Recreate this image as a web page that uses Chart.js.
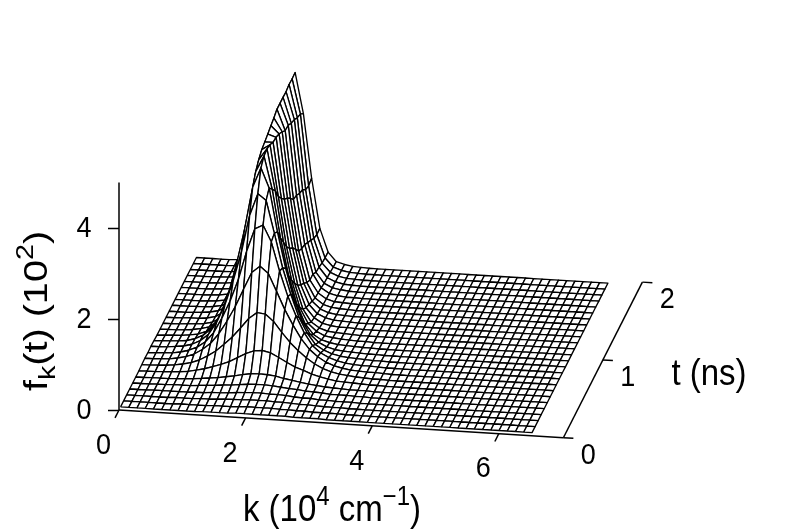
<!DOCTYPE html>
<html>
<head>
<meta charset="utf-8">
<style>html,body{margin:0;padding:0;background:#fff}canvas{display:block}</style>
<script src="https://cdn.jsdelivr.net/npm/chart.js@4"></script>
</head>
<body>
<canvas id="surfaceChart" width="790" height="530"></canvas>
<script>
// grid positions along each axis
const kValues = [0,.13,.26,.39,.52,.65,.78,.91,1.04,1.17,1.3,1.43,1.56,1.69,1.82,1.95,2.08,2.21,2.34,2.47,2.6,2.73,2.86,2.99,3.12,3.25,3.38,3.51,3.64,3.77,3.9,4.03,4.16,4.29,4.42,4.55,4.68,4.81,4.94,5.07,5.2,5.33,5.46,5.59,5.72,5.85,5.98,6.11,6.24,6.37,6.5];
const tValues = [.04,.117,.194,.27,.347,.424,.501,.578,.654,.731,.808,.885,.962,1.038,1.115,1.192,1.269,1.346,1.422,1.499,1.576,1.653,1.73,1.806,1.883,1.96];

// f values in units of 10^2, one row per t, columns 0-30 of kValues. Flat floor after that.
const fRows = [
[0,0,0,0,0,0,0,0,0,0,.01,.01,.01,.01,.02,.02,.02,.02,.02,.02,.02,.01,.01,.01,.01,0,0,0,0,0,0],
[0,0,0,0,0,0,0,.01,.01,.01,.01,.02,.02,.02,.03,.04,.04,.04,.04,.03,.03,.02,.02,.01,.01,.01,.01,0,0,0,0],
[0,0,0,0,0,0,.01,.01,.01,.02,.02,.03,.04,.05,.05,.06,.06,.06,.05,.05,.04,.03,.03,.02,.01,.01,.01,0,0,0,0],
[0,0,0,.01,.01,.01,.01,.01,.02,.02,.04,.04,.05,.07,.08,.09,.09,.08,.08,.07,.05,.04,.04,.02,.02,.01,.01,.01,0,0,0],
[0,0,0,.01,.01,.02,.02,.02,.04,.05,.06,.08,.09,.11,.13,.14,.14,.13,.11,.09,.08,.06,.05,.04,.02,.02,.02,.01,.01,0,0],
[0,0,.01,.01,.01,.02,.03,.04,.06,.08,.1,.13,.16,.2,.23,.24,.23,.21,.17,.14,.11,.08,.06,.04,.03,.02,.01,.01,.01,0,0],
[0,.01,.01,.02,.03,.04,.06,.1,.14,.2,.26,.33,.43,.53,.6,.62,.58,.49,.39,.3,.24,.17,.12,.08,.05,.04,.03,.02,.01,.01,0],
[.01,.01,.02,.03,.05,.08,.12,.19,.29,.41,.57,.74,.95,1.17,1.31,1.29,1.14,.91,.7,.53,.38,.26,.17,.11,.07,.05,.03,.02,.01,.01,0],
[.02,.02,.03,.04,.07,.11,.18,.29,.44,.66,.95,1.28,1.67,2.05,2.2,2.05,1.67,1.28,.95,.66,.44,.29,.18,.11,.07,.04,.03,.02,.02,.01,0],
[.01,.02,.03,.04,.07,.12,.2,.33,.54,.87,1.26,1.74,2.37,2.88,2.97,2.61,1.98,1.44,1.02,.66,.39,.24,.15,.09,.05,.03,.02,.02,.01,0,0],
[.02,.02,.03,.05,.07,.12,.21,.36,.64,1.03,1.57,2.21,3.03,3.52,3.38,2.67,1.92,1.35,.85,.52,.28,.17,.1,.06,.04,.03,.02,.01,.01,0,0],
[.01,.02,.03,.04,.06,.11,.2,.36,.65,1.11,1.78,2.57,3.52,3.95,3.52,2.57,1.78,1.11,.65,.36,.2,.11,.06,.04,.03,.02,.01,.01,0,0,0],
[0,.01,.02,.03,.05,.08,.15,.31,.57,1.07,1.76,2.71,3.73,4.08,3.36,2.3,1.48,.86,.45,.23,.12,.07,.04,.03,.02,.01,.01,0,0,0,0],
[0,.01,.01,.02,.04,.07,.12,.25,.52,1,1.74,2.7,3.86,4.11,3.2,2.08,1.25,.66,.33,.17,.08,.05,.03,.02,.01,.01,0,0,0,0,0],
[0,0,.01,.02,.03,.05,.09,.2,.42,.92,1.68,2.73,3.95,4.07,2.94,1.85,1.05,.5,.23,.11,.05,.03,.02,.01,0,0,0,0,0,0,0],
[0,0,.01,.02,.02,.04,.08,.19,.4,.88,1.68,2.77,3.99,3.99,2.77,1.68,.88,.4,.19,.08,.04,.02,.02,.01,0,0,0,0,0,0,0],
[0,0,0,.01,.02,.04,.08,.17,.36,.84,1.65,2.79,4.03,3.97,2.62,1.56,.76,.34,.15,.07,.03,.02,.01,0,0,0,0,0,0,0,0],
[0,0,0,.01,.01,.03,.06,.14,.32,.77,1.62,2.76,4.08,3.91,2.51,1.4,.66,.28,.12,.05,.02,.01,0,0,0,0,0,0,0,0,0],
[0,0,0,0,.01,.02,.05,.13,.3,.72,1.57,2.76,4.12,3.83,2.38,1.23,.55,.22,.09,.04,.02,.01,0,0,0,0,0,0,0,0,0],
[0,0,0,0,.01,.02,.05,.12,.28,.7,1.58,2.82,4.18,3.72,2.22,1.15,.47,.2,.08,.03,.02,.01,0,0,0,0,0,0,0,0,0],
[0,0,0,0,.01,.02,.04,.11,.26,.66,1.49,2.78,4.18,3.71,2.18,1.11,.47,.18,.07,.03,.01,.01,0,0,0,0,0,0,0,0,0],
[0,0,0,0,.01,.02,.04,.09,.24,.64,1.49,2.77,4.18,3.62,2.09,1.02,.38,.15,.06,.03,.01,0,0,0,0,0,0,0,0,0,0],
[0,0,0,0,.01,.02,.03,.09,.21,.6,1.45,2.76,4.17,3.57,2.04,.94,.36,.14,.06,.02,.01,0,0,0,0,0,0,0,0,0,0],
[0,0,0,0,0,.01,.03,.08,.21,.59,1.44,2.76,4.2,3.48,1.91,.85,.32,.13,.05,.02,.01,0,0,0,0,0,0,0,0,0,0],
[0,0,0,0,0,.01,.03,.08,.2,.55,1.4,2.71,4.19,3.43,1.86,.8,.3,.11,.05,.02,.01,0,0,0,0,0,0,0,0,0,0],
[0,0,0,0,0,.01,.03,.07,.2,.55,1.39,2.7,4.2,3.31,1.9,.81,.3,.1,.05,.02,.01,0,0,0,0,0,0,0,0,0,0]
];

const kTicks = [0,2,4,6];
const tTicks = [0,1,2];
const zTicks = [0,2,4];
const kAxisEnd = 7.02;
const tAxisEnd = 2;
const zAxisEnd = 5;

// oblique view: k and t shift the point on the z scale and the horizontal scale
function project(k, t, z) {
    return { x: k + t * 0.624, y: z - k * 0.0868 + t * 1.71 };
}

const FONT = '"Liberation Sans", Arial, sans-serif';
const INK = '#000';
const TICK_STRETCH = 1.1;  // the reference text is taller than it is wide
const TITLE_STRETCH = 1.12;
const ROTATED_STRETCH = 1.2;
const datasets = [];

function addLine(points) {
    datasets.push({
        data: points.map(p => project(p[0], p[1], p[2])),
        showLine: true,
        fill: false,
        borderColor: INK,
        borderWidth: 1.5,
        pointRadius: 0,
        clip: false
    });
}

// axes
addLine([[0, 0, 0], [0, 0, zAxisEnd]]);
addLine([[0, 0, 0], [kAxisEnd, 0, 0]]);
addLine([[kAxisEnd, 0, 0], [kAxisEnd, tAxisEnd, 0]]);
kTicks.forEach(k => addLine([[k, 0, 0], [k, -0.1, 0]]));
tTicks.forEach(t => addLine([[kAxisEnd, t, 0], [kAxisEnd + 0.158, t, 0]]));

// chart.js paints the last dataset first, so front cells go first here
const fAt = (r, c) => fRows[r][c] ?? 0;
for (let r = 0; r < tValues.length - 1; r++) {
    for (let c = kValues.length - 2; c >= 0; c--) {
        const corners = [[c, r], [c + 1, r], [c + 1, r + 1], [c, r + 1], [c, r]];
        datasets.push({
            data: corners.map(q => project(kValues[q[0]], tValues[q[1]], fAt(q[1], q[0]))),
            showLine: true,
            fill: 'shape',
            backgroundColor: '#fff',
            borderColor: INK,
            borderWidth: 1.35,
            borderJoinStyle: 'round',
            pointRadius: 0,
            clip: false
        });
    }
}

// writes a list of [text, size, dy] runs one after another
function drawRuns(ctx, runs, x, y) {
    let pos = x;
    runs.forEach(run => {
        ctx.font = run[1] + 'px ' + FONT;
        ctx.fillText(run[0], pos, y + run[2]);
        pos += ctx.measureText(run[0]).width;
    });
}
function runsWidth(ctx, runs) {
    return runs.reduce((w, run) => {
        ctx.font = run[1] + 'px ' + FONT;
        return w + ctx.measureText(run[0]).width;
    }, 0);
}
function stretchedText(ctx, text, x, y, stretch) {
    ctx.save();
    ctx.translate(x, y);
    ctx.scale(1, stretch);
    ctx.fillText(text, 0, 0);
    ctx.restore();
}

const axisText = {
    id: 'axisText',
    afterDraw(chart) {
        const { ctx, scales } = chart;
        const px = p => [scales.x.getPixelForValue(p.x), scales.y.getPixelForValue(p.y)];
        ctx.save();
        ctx.fillStyle = INK;
        ctx.textAlign = 'center';
        ctx.textBaseline = 'middle';
        ctx.font = '27px ' + FONT;
        zTicks.forEach(z => {
            stretchedText(ctx, String(z), 84, scales.y.getPixelForValue(z) + 1, TICK_STRETCH);
        });
        kTicks.forEach(k => {
            const [x, y] = px(project(k, 0, 0));
            stretchedText(ctx, String(k), x - 15.5, y + 35.5, TICK_STRETCH);
        });
        tTicks.forEach(t => {
            const [x, y] = px(project(kAxisEnd, t, 0));
            stretchedText(ctx, String(t), x + 25, y + 18, TICK_STRETCH);
        });
        ctx.font = '33px ' + FONT;
        stretchedText(ctx, 't (ns)', 709, 375, TITLE_STRETCH);

        ctx.textAlign = 'left';
        ctx.textBaseline = 'alphabetic';
        const kTitle = [['k (10', 33, 0], ['4', 24, -14], [' cm', 33, 0], ['\u22121', 24, -14], [')', 33, 0]];
        ctx.save();
        ctx.translate(332, 521);
        ctx.scale(1, TITLE_STRETCH);
        drawRuns(ctx, kTitle, -runsWidth(ctx, kTitle) / 2, 0);
        ctx.restore();

        const fTitle = [['f', 33, 0], ['k', 24, 8], ['(t) (10', 33, 0], ['2', 24, -14], [')', 33, 0]];
        ctx.translate(47, 311);
        ctx.scale(1, ROTATED_STRETCH);
        ctx.rotate(-Math.PI / 2);
        drawRuns(ctx, fTitle, -runsWidth(ctx, fTitle) / 2, 0);
        ctx.restore();
    }
};

new Chart(document.getElementById('surfaceChart').getContext('2d'), {
    type: 'scatter',
    data: { datasets: datasets },
    plugins: [axisText],
    options: {
        responsive: false,
        animation: false,
        parsing: false,
        events: [],
        layout: { padding: 0 },
        plugins: { legend: { display: false }, tooltip: { enabled: false } },
        scales: {
            x: { display: false, min: 0, max: 10.6 },
            y: {
                min: -2.637,
                max: 9.011,
                border: { display: false },
                grid: { drawOnChartArea: false, tickLength: 11, tickWidth: 1.5, tickColor: INK },
                ticks: { display: false },
                afterBuildTicks(scale) { scale.ticks = zTicks.map(v => ({ value: v })); },
                afterFit(scale) {
                    scale.width = 119;
                    scale.paddingTop = 0;
                    scale.paddingBottom = 0;
                }
            }
        }
    }
});
</script>
</body>
</html>
